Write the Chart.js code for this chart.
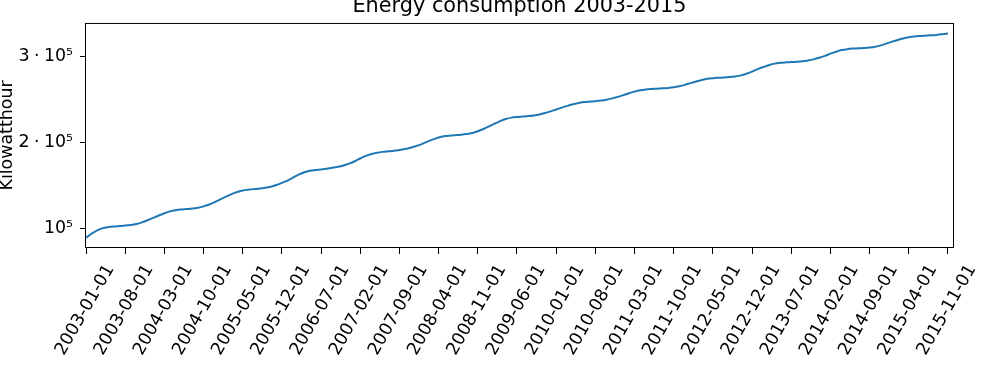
<!DOCTYPE html>
<html>
<head>
<meta charset="utf-8">
<script src="https://cdn.jsdelivr.net/npm/chart.js@4/dist/chart.umd.min.js"></script>
<style>
html, body { margin: 0; padding: 0; background: #ffffff; }
#wrap { width: 1000px; height: 375px; position: relative; }
</style>
</head>
<body>
<div id="wrap"><canvas id="c" width="1000" height="375"></canvas></div>
<script>
const chartTitle = 'Energy consumption 2003-2015';
const yAxisTitle = 'Kilowatthour';
const startYear = 2003;

// Cumulative monthly consumption (kWh), one value per month from 2003-01 to 2015-11
const consumption = [
  89500, 94000, 98000, 100600, 101800, 102500, 103000, 103500, 104200, 105300, 107200, 109700,
  112500, 115300, 117900, 120100, 121500, 122300, 122800, 123400, 124400, 125900, 128100, 130900,
  134000, 137200, 140200, 142700, 144400, 145300, 146000, 146600, 147500, 148800, 150800, 153300,
  156000, 159500, 162800, 165600, 167400, 168300, 169000, 169800, 170800, 172000, 173600, 175700,
  178500, 181700, 184700, 187000, 188500, 189400, 190000, 190600, 191500, 192700, 194300, 196300,
  198500, 201300, 203900, 206200, 207600, 208300, 208800, 209300, 210100, 211400, 213400, 216000,
  219000, 222200, 225200, 227700, 229300, 230100, 230600, 231100, 231900, 233000, 234600, 236600,
  238800, 241000, 243000, 244800, 246400, 247400, 248000, 248500, 249200, 250200, 251700, 253500,
  255500, 257700, 259600, 261200, 262200, 262700, 263000, 263400, 263900, 264700, 265900, 267500,
  269500, 271400, 273100, 274500, 275300, 275700, 276000, 276500, 277300, 278500, 280400, 282900,
  285800, 288200, 290400, 292200, 293200, 293700, 294000, 294400, 295000, 295900, 297200, 299000,
  301200, 303800, 306100, 308000, 309100, 309700, 310000, 310400, 311000, 312000, 313500, 315500,
  317800, 319800, 321600, 323000, 323900, 324400, 324800, 325200, 325700, 326500, 327400
];

const xTickLabels = [
  '2003-01-01', '2003-08-01', '2004-03-01', '2004-10-01', '2005-05-01', '2005-12-01',
  '2006-07-01', '2007-02-01', '2007-09-01', '2008-04-01', '2008-11-01', '2009-06-01',
  '2010-01-01', '2010-08-01', '2011-03-01', '2011-10-01', '2012-05-01', '2012-12-01',
  '2013-07-01', '2014-02-01', '2014-09-01', '2015-04-01', '2015-11-01'
];

const yTickValues = [100000, 200000, 300000];
const yTickLabels = ['10\u2075', '2\u2005\u00b7\u200510\u2075', '3\u2005\u00b7\u200510\u2075'];

// month labels for each data point
const months = consumption.map((_, i) => {
  const y = startYear + Math.floor(i / 12);
  const m = (i % 12) + 1;
  return y + '-' + String(m).padStart(2, '0') + '-01';
});

const FONT = '"DejaVu Sans", "Liberation Sans", sans-serif';

const frame = {
  id: 'frame',
  afterDraw(chart) {
    const { ctx, chartArea: a } = chart;
    ctx.save();
    ctx.strokeStyle = '#000000';
    ctx.lineWidth = 1;
    ctx.strokeRect(a.left - 0.5, a.top + 0.5, a.right - a.left + 1, a.bottom - a.top - 1);
    ctx.restore();
  }
};

const rotatedXLabels = {
  id: 'rotatedXLabels',
  afterDraw(chart) {
    const ctx = chart.ctx;
    const xs = chart.scales.x;
    ctx.save();
    ctx.font = '17.4px ' + FONT;
    ctx.fillStyle = '#000000';
    ctx.textAlign = 'center';
    ctx.textBaseline = 'middle';
    xTickLabels.forEach(l => {
      const px = xs.getPixelForValue(months.indexOf(l));
      ctx.save();
      ctx.translate(px - 1, xs.top + 62);
      ctx.rotate(-Math.PI / 3);
      ctx.fillText(l, 0, 0);
      ctx.restore();
    });
    ctx.restore();
  }
};

new Chart(document.getElementById('c'), {
  type: 'line',
  data: {
    datasets: [{
      data: consumption.map((v, i) => ({ x: i, y: v })),
      borderColor: '#1f77b4',
      borderWidth: 2,
      pointRadius: 0,
      fill: false,
      cubicInterpolationMode: 'monotone'
    }]
  },
  options: {
    responsive: false,
    animation: false,
    devicePixelRatio: 1,
    layout: { padding: { left: 0, right: 47, top: 0, bottom: 0 } },
    plugins: {
      legend: { display: false },
      tooltip: { enabled: false },
      title: {
        display: true,
        text: chartTitle,
        fullSize: false,
        color: '#000000',
        font: { family: FONT, size: 20.8, weight: 'normal' },
        padding: { top: -5.5, bottom: 3.5 }
      }
    },
    scales: {
      x: {
        type: 'linear',
        min: 0,
        max: 154.9,
        afterBuildTicks: s => { s.ticks = xTickLabels.map(l => ({ value: months.indexOf(l) })); },
        afterFit: s => { s.height = 127; },
        ticks: { display: false },
        grid: { drawOnChartArea: false, drawTicks: true, tickLength: 6, color: '#000000', lineWidth: 1 },
        border: { display: false }
      },
      y: {
        type: 'linear',
        min: 77400,
        max: 339600,
        afterBuildTicks: s => { s.ticks = yTickValues.map(v => ({ value: v })); },
        afterFit: s => { s.width = 86; },
        ticks: {
          color: '#000000',
          padding: 7,
          font: { family: FONT, size: 17.4 },
          callback: v => yTickLabels[yTickValues.indexOf(v)]
        },
        grid: { drawOnChartArea: false, drawTicks: true, tickLength: 6, color: '#000000', lineWidth: 1 },
        border: { display: false },
        title: {
          display: true,
          text: yAxisTitle,
          color: '#000000',
          font: { family: FONT, size: 17.4 },
          padding: { top: -3, bottom: 0 }
        }
      }
    }
  },
  plugins: [frame, rotatedXLabels]
});
</script>
</body>
</html>
